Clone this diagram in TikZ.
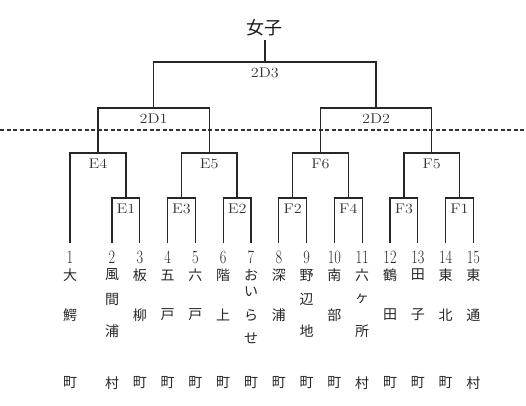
\documentclass[tikz,border=0pt]{standalone}
\usepackage{fontspec}
\newfontfamily\jp{Noto Sans CJK JP}
\newcommand{\tallnum}[1]{\scalebox{0.95}[1.25]{#1}}
\newcommand{\widelab}[1]{\scalebox{1.15}[1]{#1}}
\begin{document}
\begin{tikzpicture}[x=1pt,y=-1pt,
  br/.style={draw=black!85, line width=1.3pt, line join=miter},
  sep/.style={draw=black!80, line width=1.1pt, dash pattern=on 4pt off 2.5pt},
  lab/.style={font=\fontsize{14}{14}\selectfont, text=black!80, inner sep=0pt, anchor=north, yshift=-6pt},
  num/.style={font=\fontsize{15}{15}\selectfont, text=black!85, inner sep=0pt},
  ch/.style={font=\jp\fontsize{14}{14}\selectfont, text=black!85, inner sep=0pt},
  ttl/.style={font=\jp\fontsize{18}{18}\selectfont, text=black!90, inner sep=3pt}]
\useasboundingbox (0,0) rectangle (526,405);
% leaves
\foreach \i/\x in {1/70,2/112,3/139.8,4/167.6,5/195.4,6/223.2,7/251,8/278.8,9/306.6,10/334.4,11/362.2,12/390,13/417.8,14/445.6,15/473.4}
  \coordinate (l\i) at (\x,243);
% bracket joins
\coordinate (E1) at (125.9,198);
\coordinate (E3) at (181.5,198);
\coordinate (E2) at (237.1,198);
\coordinate (F2) at (292.7,198);
\coordinate (F4) at (348.3,198);
\coordinate (F3) at (403.9,198);
\coordinate (F1) at (459.5,198);
\coordinate (E4) at (98,153);
\coordinate (E5) at (209.3,153);
\coordinate (F6) at (320.5,153);
\coordinate (F5) at (431.7,153);
\coordinate (D1) at (153.6,108);
\coordinate (D2) at (376.1,108);
\coordinate (D3) at (264.9,62);
\coordinate (dl) at (0,130);
\coordinate (dr) at (526,130);
% dashed line
\draw[sep] (dl) -- (dr);
% brackets
\draw[br] (l2) |- (E1) -| (l3);
\draw[br] (l4) |- (E3) -| (l5);
\draw[br] (l6) |- (E2) -| (l7);
\draw[br] (l8) |- (F2) -| (l9);
\draw[br] (l10) |- (F4) -| (l11);
\draw[br] (l12) |- (F3) -| (l13);
\draw[br] (l14) |- (F1) -| (l15);
\draw[br] (l1) |- (E4) -| (E1);
\draw[br] (E3) |- (E5) -| (E2);
\draw[br] (F2) |- (F6) -| (F4);
\draw[br] (F3) |- (F5) -| (F1);
\draw[br] (E4) |- (D1) -| (E5);
\draw[br] (F6) |- (D2) -| (F5);
\draw[br] (D1) |- (D3) -| (D2);
% title
\node[ttl] (top) at (264.9,28) {女子};
\draw[br] (top) -- (D3);
% labels
\foreach \n in {E1,E2,E3,E4,E5,F1,F2,F3,F4,F5,F6}
  \node[lab] (t\n) at (\n) {\widelab{\n}};
\node[lab] (tD1) at (D1) {\widelab{2D1}};
\node[lab] (tD2) at (D2) {\widelab{2D2}};
\node[lab] (tD3) at (D3) {\widelab{2D3}};
% numbers, first and last characters
\foreach \i/\x/\a/\c in {1/70/大/町,2/112/風/村,3/139.8/板/町,4/167.6/五/町,5/195.4/六/町,6/223.2/階/町,7/251/お/町,8/278.8/深/町,9/306.6/野/町,10/334.4/南/町,11/362.2/六/村,12/390/鶴/町,13/417.8/田/町,14/445.6/東/町,15/473.4/東/村}{
  \node[num] (n\i) at (\x,257) {\tallnum{\i}};
  \node[ch] (a\i) at (\x,275) {\a};
  \node[ch] (c\i) at (\x,383) {\c};
}
% middle characters, single
\foreach \i/\x/\b in {1/70/鰐,3/139.8/柳,4/167.6/戸,5/195.4/戸,6/223.2/上,8/278.8/浦,10/334.4/部,12/390/田,13/417.8/子,14/445.6/北,15/473.4/通}
  \node[ch] (b\i) at (\x,315) {\b};
% middle characters, two
\foreach \i/\x/\p/\q in {2/112/間/浦,9/306.6/辺/地,11/362.2/ヶ/所}{
  \node[ch] (b\i p) at (\x,299) {\p};
  \node[ch] (b\i q) at (\x,331) {\q};
}
% column 7
\node[ch] (b7a) at (251,292) {い};
\node[ch] (b7b) at (251,315) {ら};
\node[ch] (b7c) at (251,338) {せ};
\end{tikzpicture}
\end{document}
